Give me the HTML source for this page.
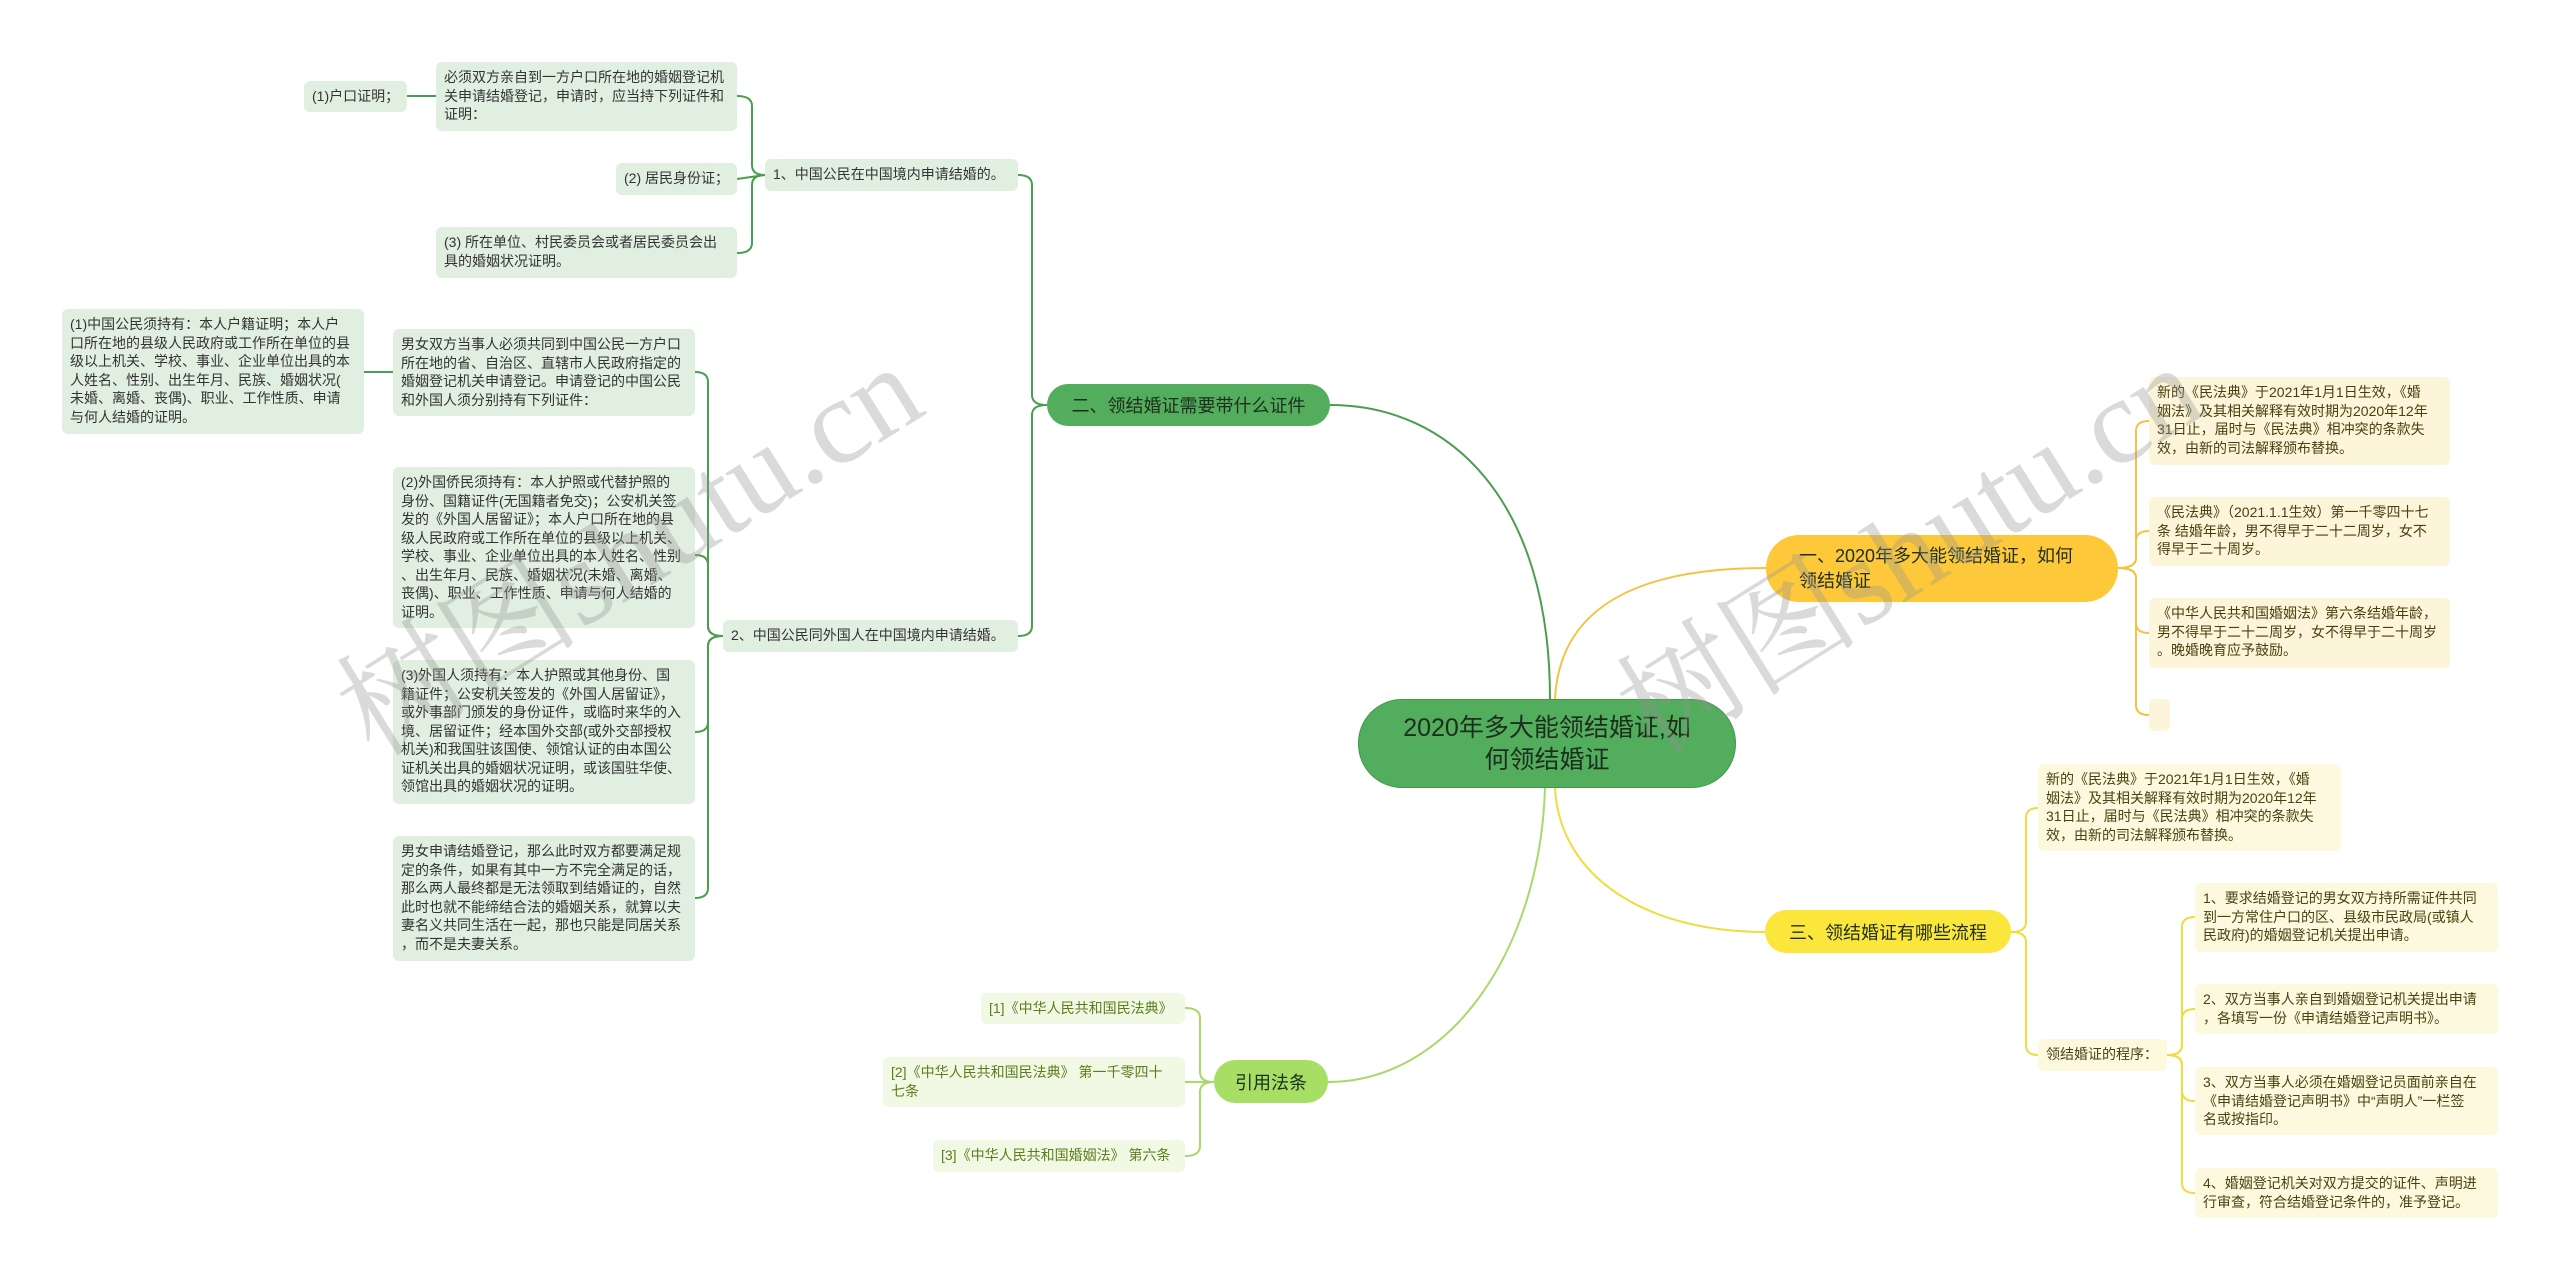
<!DOCTYPE html>
<html><head><meta charset="utf-8"><style>
body{margin:0;width:2560px;height:1281px;background:#fff;position:relative;overflow:hidden;font-family:"Liberation Sans","Noto Sans CJK SC",sans-serif}
.b{position:absolute;box-sizing:border-box;border-radius:6px;font-size:14px;line-height:18.5px;padding:6px 8px;white-space:nowrap}
.g{background:#e0efdf;color:#333}
.y{background:#fdf5d9;color:#4a3e10}
.yl{background:#fcf9de;color:#4a4210}
.l{background:#f1f8e4;color:#5d7d1c}
.n{position:absolute;box-sizing:border-box;display:flex;align-items:center;border-radius:22px;font-size:18px;color:#1e2e1e;white-space:nowrap}
.wm{position:absolute;font-size:122px;color:rgba(150,150,150,0.35);transform:rotate(-32deg);transform-origin:left top;white-space:nowrap;font-family:"Liberation Serif","Noto Serif CJK SC",serif}
</style></head><body>
<svg width="2560" height="1281" style="position:absolute;left:0;top:0" fill="none">
<g stroke="#4a9e50" stroke-width="2">
<path d="M1550 699 C1550 500 1450 405 1330 405"/>
<path d="M1047 405 Q1032 405 1032 395 V185 Q1032 175 1018 175"/>
<path d="M1047 405 Q1032 405 1032 415 V626 Q1032 636 1018 636"/>
<path d="M765 175 Q752 175 752 165 V106 Q752 96 737 96"/>
<path d="M765 175 L737 179"/>
<path d="M765 175 Q752 175 752 185 V243 Q752 253 737 253"/>
<path d="M436 96 L407 96"/>
<path d="M723 636 Q708 636 708 626 V382 Q708 372 695 372"/>
<path d="M723 636 Q708 636 708 626 V565 Q708 555 695 555"/>
<path d="M723 636 Q708 636 708 646 V722 Q708 732 695 732"/>
<path d="M723 636 Q708 636 708 646 V888 Q708 898 695 898"/>
<path d="M393 372 L364 372"/>
</g>
<g stroke="#f5c342" stroke-width="2">
<path d="M1555 699 C1560 600 1650 568 1766 568"/>
<path d="M2118 568 Q2136 568 2136 558 V431 Q2136 421 2149 421"/>
<path d="M2118 568 Q2136 568 2136 558 V541 Q2136 531 2149 531"/>
<path d="M2118 568 Q2136 568 2136 578 V623 Q2136 633 2149 633"/>
<path d="M2118 568 Q2136 568 2136 578 V705 Q2136 715 2149 715"/>
</g>
<g stroke="#f0dc3c" stroke-width="2">
<path d="M1555 788 C1560 880 1650 932 1765 932"/>
<path d="M2011 932 Q2026 932 2026 922 V818 Q2026 808 2038 808"/>
<path d="M2011 932 Q2026 932 2026 942 V1045 Q2026 1055 2038 1055"/>
<path d="M2167 1055 Q2182 1055 2182 1045 V927 Q2182 917 2195 917"/>
<path d="M2167 1055 Q2182 1055 2182 1045 V1019 Q2182 1009 2195 1009"/>
<path d="M2167 1055 Q2182 1055 2182 1065 V1091 Q2182 1101 2195 1101"/>
<path d="M2167 1055 Q2182 1055 2182 1065 V1183 Q2182 1193 2195 1193"/>
</g>
<g stroke="#a8d96a" stroke-width="2">
<path d="M1545 788 C1540 950 1450 1082 1328 1082"/>
<path d="M1214 1082 Q1200 1082 1200 1072 V1018 Q1200 1008 1185 1008"/>
<path d="M1214 1082 L1185 1082"/>
<path d="M1214 1082 Q1200 1082 1200 1092 V1146 Q1200 1156 1185 1156"/>
</g>
</svg>

<div class="n" style="left:1358px;top:699px;width:378px;height:89px;border-radius:44px;background:#52ad5c;border:1px solid #3f9a4a;justify-content:center;text-align:center;font-size:25px;line-height:32px;white-space:normal;padding:0 40px">2020年多大能领结婚证,如何领结婚证</div>
<div class="n" style="left:1047px;top:384px;width:283px;height:42px;background:#52ad5c;justify-content:center">二、领结婚证需要带什么证件</div>
<div class="n" style="left:1766px;top:535px;width:352px;height:67px;border-radius:33px;background:#fdc93a;padding-left:33px;line-height:25px;font-size:18px">一、2020年多大能领结婚证，如何<br>领结婚证</div>
<div class="n" style="left:1765px;top:910px;width:246px;height:43px;background:#fbe63b;justify-content:center">三、领结婚证有哪些流程</div>
<div class="n" style="left:1214px;top:1060px;width:114px;height:43px;background:#a6df63;justify-content:center">引用法条</div>

<div class="b g" style="left:304px;top:81px;width:103px;height:31px">(1)户口证明；</div>
<div class="b g" style="left:436px;top:62px;width:301px;height:69px">必须双方亲自到一方户口所在地的婚姻登记机<br>关申请结婚登记，申请时，应当持下列证件和<br>证明：</div>
<div class="b g" style="left:616px;top:163px;width:121px;height:32px">(2) 居民身份证；</div>
<div class="b g" style="left:436px;top:227px;width:301px;height:51px">(3) 所在单位、村民委员会或者居民委员会出<br>具的婚姻状况证明。</div>
<div class="b g" style="left:765px;top:159px;width:253px;height:32px">1、中国公民在中国境内申请结婚的。</div>
<div class="b g" style="left:62px;top:309px;width:302px;height:125px">(1)中国公民须持有：本人户籍证明；本人户<br>口所在地的县级人民政府或工作所在单位的县<br>级以上机关、学校、事业、企业单位出具的本<br>人姓名、性别、出生年月、民族、婚姻状况(<br>未婚、离婚、丧偶)、职业、工作性质、申请<br>与何人结婚的证明。</div>
<div class="b g" style="left:393px;top:329px;width:302px;height:87px">男女双方当事人必须共同到中国公民一方户口<br>所在地的省、自治区、直辖市人民政府指定的<br>婚姻登记机关申请登记。申请登记的中国公民<br>和外国人须分别持有下列证件：</div>
<div class="b g" style="left:393px;top:467px;width:302px;height:161px">(2)外国侨民须持有：本人护照或代替护照的<br>身份、国籍证件(无国籍者免交)；公安机关签<br>发的《外国人居留证》；本人户口所在地的县<br>级人民政府或工作所在单位的县级以上机关、<br>学校、事业、企业单位出具的本人姓名、性别<br>、出生年月、民族、婚姻状况(未婚、离婚、<br>丧偶)、职业、工作性质、申请与何人结婚的<br>证明。</div>
<div class="b g" style="left:723px;top:620px;width:295px;height:32px">2、中国公民同外国人在中国境内申请结婚。</div>
<div class="b g" style="left:393px;top:660px;width:302px;height:144px">(3)外国人须持有：本人护照或其他身份、国<br>籍证件；公安机关签发的《外国人居留证》，<br>或外事部门颁发的身份证件，或临时来华的入<br>境、居留证件；经本国外交部(或外交部授权<br>机关)和我国驻该国使、领馆认证的由本国公<br>证机关出具的婚姻状况证明，或该国驻华使、<br>领馆出具的婚姻状况的证明。</div>
<div class="b g" style="left:393px;top:836px;width:302px;height:125px">男女申请结婚登记，那么此时双方都要满足规<br>定的条件，如果有其中一方不完全满足的话，<br>那么两人最终都是无法领取到结婚证的，自然<br>此时也就不能缔结合法的婚姻关系，就算以夫<br>妻名义共同生活在一起，那也只能是同居关系<br>，而不是夫妻关系。</div>

<div class="b y" style="left:2149px;top:377px;width:301px;height:88px">新的《民法典》于2021年1月1日生效，《婚<br>姻法》及其相关解释有效时期为2020年12年<br>31日止，届时与《民法典》相冲突的条款失<br>效，由新的司法解释颁布替换。</div>
<div class="b y" style="left:2149px;top:497px;width:301px;height:69px">《民法典》（2021.1.1生效）第一千零四十七<br>条 结婚年龄，男不得早于二十二周岁，女不<br>得早于二十周岁。</div>
<div class="b y" style="left:2149px;top:598px;width:301px;height:70px">《中华人民共和国婚姻法》第六条结婚年龄，<br>男不得早于二十二周岁，女不得早于二十周岁<br>。晚婚晚育应予鼓励。</div>
<div class="b y" style="left:2149px;top:699px;width:21px;height:32px"></div>

<div class="b yl" style="left:2038px;top:764px;width:303px;height:87px">新的《民法典》于2021年1月1日生效，《婚<br>姻法》及其相关解释有效时期为2020年12年<br>31日止，届时与《民法典》相冲突的条款失<br>效，由新的司法解释颁布替换。</div>
<div class="b yl" style="left:2038px;top:1039px;width:129px;height:32px">领结婚证的程序：</div>
<div class="b yl" style="left:2195px;top:883px;width:303px;height:69px">1、要求结婚登记的男女双方持所需证件共同<br>到一方常住户口的区、县级市民政局(或镇人<br>民政府)的婚姻登记机关提出申请。</div>
<div class="b yl" style="left:2195px;top:984px;width:303px;height:50px">2、双方当事人亲自到婚姻登记机关提出申请<br>，各填写一份《申请结婚登记声明书》。</div>
<div class="b yl" style="left:2195px;top:1067px;width:303px;height:68px">3、双方当事人必须在婚姻登记员面前亲自在<br>《申请结婚登记声明书》中“声明人”一栏签<br>名或按指印。</div>
<div class="b yl" style="left:2195px;top:1168px;width:303px;height:50px">4、婚姻登记机关对双方提交的证件、声明进<br>行审查，符合结婚登记条件的，准予登记。</div>

<div class="b l" style="left:981px;top:993px;width:204px;height:31px">[1]《中华人民共和国民法典》</div>
<div class="b l" style="left:883px;top:1057px;width:302px;height:50px">[2]《中华人民共和国民法典》 第一千零四十<br>七条</div>
<div class="b l" style="left:933px;top:1140px;width:252px;height:32px">[3]《中华人民共和国婚姻法》 第六条</div>

<div class="wm" style="left:300px;top:640px">树图shutu.cn</div>
<div class="wm" style="left:1580px;top:640px">树图shutu.cn</div>
</body></html>
